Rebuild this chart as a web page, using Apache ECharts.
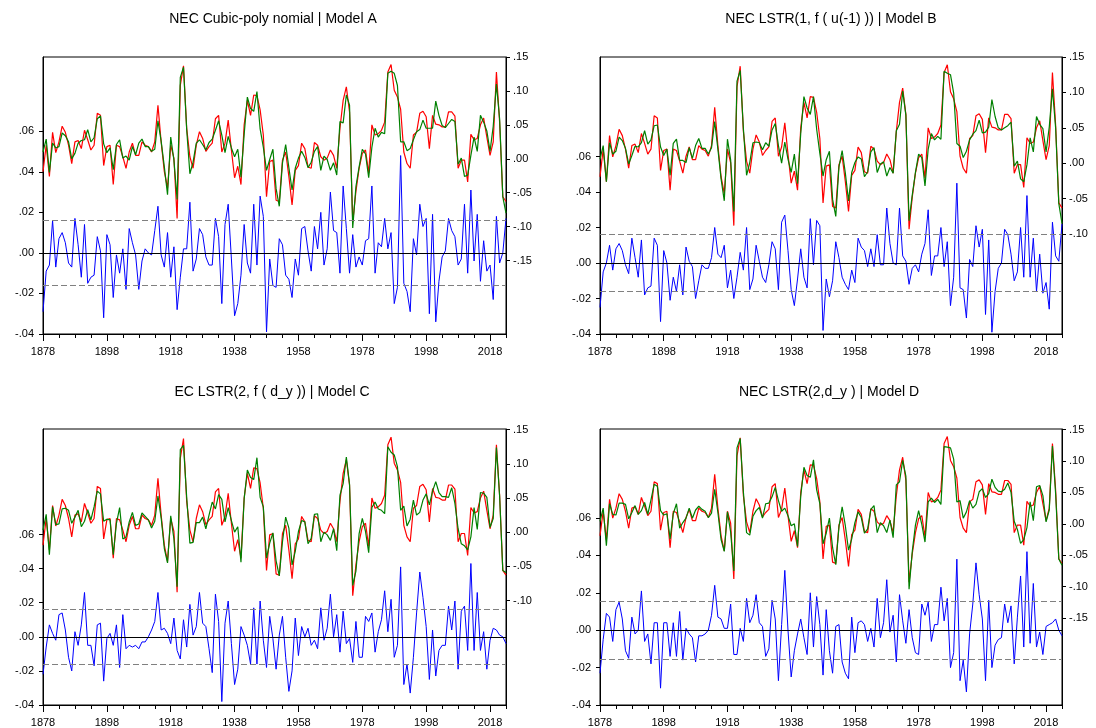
<!DOCTYPE html>
<html>
<head>
<meta charset="utf-8">
<script src="https://cdn.jsdelivr.net/npm/echarts@6/dist/echarts.min.js"></script>
<style>
html, body { margin: 0; padding: 0; background: #ffffff; }
#chart { width: 1096px; height: 728px; }
</style>
</head>
<body>
<div id="chart"></div>
<script>
// Annual sample
const firstYear = 1878;
const lastYear = 2023;

const panelTitles = [
  'NEC Cubic-poly nomial | Model A',
  'NEC LSTR(1, f ( u(-1) )) | Model B',
  'EC LSTR(2, f ( d_y )) | Model C',
  'NEC LSTR(2,d_y ) | Model D'
];

// Actual series (right axis, red) - identical in every model
const actual = [
  -0.019, 0.020, -0.026, 0.039, 0.009, 0.025, 0.048, 0.039, 0.020, -0.007,
  0.025, 0.027, 0.015, 0.042, 0.028, 0.013, 0.020, 0.067, 0.064, -0.010,
  0.018, 0.020, -0.038, 0.020, 0.018, 0.003, -0.014, 0.010, 0.023, 0.005,
  0.005, 0.025, 0.020, 0.018, 0.010, 0.025, 0.079, 0.025, -0.019, -0.043,
  0.020, 0.001, -0.088, 0.108, 0.137, 0.045, 0.003, -0.014, 0.020, 0.040,
  0.030, 0.011, 0.018, 0.023, 0.059, 0.064, 0.010, 0.023, 0.057, 0.013,
  -0.028, -0.011, -0.038, 0.050, 0.086, 0.064, 0.094, 0.093, 0.072, 0.035,
  -0.056, -0.004, -0.002, -0.061, -0.063, -0.002, 0.010, -0.026, -0.068, -0.017,
  -0.010, 0.023, 0.015, -0.012, -0.014, 0.024, 0.020, 0.003, -0.002, 0.001,
  0.013, 0.005, -0.014, 0.045, 0.086, 0.106, 0.069, -0.093, -0.048, -0.014,
  0.008, 0.013, -0.021, 0.050, 0.035, 0.037, 0.042, 0.054, 0.128, 0.139,
  0.101, 0.091, 0.073, 0.010, -0.007, -0.014, 0.035, 0.039, 0.067, 0.070,
  0.062, 0.015, 0.064, 0.051, 0.050, 0.047, 0.047, 0.069, 0.069, 0.063,
  -0.014, -0.002, -0.002, -0.034, 0.036, 0.028, 0.030, 0.050, 0.060, 0.032,
  0.005, 0.025, 0.128, 0.054, -0.056, -0.063
];

// Model A
const fittedA = [
  0.010, 0.029, -0.020, 0.023, 0.016, 0.018, 0.038, 0.034, 0.025, 0.000,
  0.008, 0.023, 0.027, 0.028, 0.043, 0.025, 0.031, 0.059, 0.063, 0.022,
  0.009, 0.016, -0.016, 0.021, 0.028, 0.001, 0.004, -0.002, 0.018, 0.006,
  0.023, 0.029, 0.018, 0.018, 0.011, 0.014, 0.056, 0.026, -0.012, -0.053,
  0.032, -0.002, -0.060, 0.120, 0.135, 0.043, -0.022, -0.005, 0.023, 0.028,
  0.021, 0.013, 0.024, 0.029, 0.042, 0.056, 0.035, 0.009, 0.033, 0.016,
  0.003, 0.014, -0.027, 0.036, 0.091, 0.074, 0.070, 0.099, 0.044, 0.017,
  -0.017, -0.001, 0.014, -0.044, -0.070, -0.006, 0.021, -0.013, -0.046, -0.014,
  0.001, 0.011, 0.002, -0.013, -0.005, 0.011, 0.018, -0.017, 0.004, -0.001,
  -0.017, -0.006, -0.024, 0.055, 0.053, 0.094, 0.079, -0.102, -0.041, -0.012,
  0.014, 0.007, -0.028, 0.017, 0.045, 0.032, 0.039, 0.037, 0.126, 0.129,
  0.126, 0.108, 0.025, 0.025, 0.012, 0.015, 0.028, 0.040, 0.043, 0.057,
  0.045, 0.045, 0.045, 0.085, 0.064, 0.049, 0.046, 0.052, 0.058, 0.055,
  -0.008, 0.001, -0.026, -0.024, 0.005, 0.032, 0.011, 0.064, 0.054, 0.041,
  0.011, 0.048, 0.110, 0.059, -0.056, -0.080
];
const residA = [
  -0.029, -0.009, -0.006, 0.016, -0.007, 0.007, 0.010, 0.005, -0.005, -0.007,
  0.017, 0.004, -0.012, 0.014, -0.015, -0.012, -0.011, 0.008, 0.001, -0.032,
  0.009, 0.004, -0.022, -0.001, -0.010, 0.002, -0.018, 0.012, 0.005, -0.001,
  -0.018, -0.004, 0.002, 0.000, -0.001, 0.011, 0.023, -0.001, -0.007, 0.010,
  -0.012, 0.003, -0.028, -0.012, 0.002, 0.002, 0.025, -0.009, -0.003, 0.012,
  0.009, -0.002, -0.006, -0.006, 0.017, 0.008, -0.025, 0.014, 0.024, -0.003,
  -0.031, -0.025, -0.011, 0.014, -0.005, -0.010, 0.024, -0.006, 0.028, 0.018,
  -0.039, -0.003, -0.016, -0.017, 0.007, 0.004, -0.011, -0.013, -0.022, -0.003,
  -0.011, 0.012, 0.013, 0.001, -0.009, 0.013, 0.002, 0.020, -0.006, 0.002,
  0.030, 0.011, 0.010, -0.010, 0.033, 0.012, -0.010, 0.009, -0.007, -0.002,
  -0.006, 0.006, 0.007, 0.033, -0.010, 0.005, 0.003, 0.017, 0.002, 0.010,
  -0.025, -0.017, 0.048, -0.015, -0.019, -0.029, 0.007, -0.001, 0.024, 0.013,
  0.017, -0.030, 0.019, -0.034, -0.014, -0.002, 0.001, 0.017, 0.011, 0.008,
  -0.006, -0.003, 0.024, -0.010, 0.031, -0.004, 0.019, -0.014, 0.006, -0.009,
  -0.006, -0.023, 0.018, -0.005, 0.000, 0.017
];

// Model B
const fittedB = [
  0.006, 0.025, -0.026, 0.029, 0.013, 0.017, 0.037, 0.032, 0.021, -0.001,
  0.011, 0.024, 0.023, 0.029, 0.046, 0.027, 0.033, 0.053, 0.054, 0.023,
  0.011, 0.020, -0.017, 0.028, 0.034, 0.004, 0.004, 0.001, 0.022, 0.007,
  0.025, 0.035, 0.021, 0.021, 0.013, 0.022, 0.059, 0.020, -0.022, -0.053,
  0.034, 0.005, -0.068, 0.116, 0.131, 0.049, -0.017, 0.001, 0.029, 0.030,
  0.029, 0.019, 0.029, 0.024, 0.047, 0.056, 0.025, 0.000, 0.030, 0.006,
  -0.013, 0.013, -0.029, 0.042, 0.094, 0.078, 0.069, 0.094, 0.048, 0.014,
  -0.018, 0.005, 0.017, -0.051, -0.075, -0.005, 0.018, -0.014, -0.053, -0.013,
  0.001, 0.009, 0.006, -0.019, -0.012, 0.016, 0.022, -0.013, -0.001, 0.002,
  -0.018, -0.006, -0.014, 0.046, 0.055, 0.102, 0.068, -0.081, -0.045, -0.013,
  0.013, 0.008, -0.032, 0.020, 0.042, 0.033, 0.038, 0.034, 0.130, 0.127,
  0.125, 0.099, 0.028, 0.024, 0.008, 0.017, 0.033, 0.041, 0.046, 0.061,
  0.043, 0.044, 0.051, 0.090, 0.066, 0.050, 0.047, 0.050, 0.053, 0.058,
  -0.004, 0.003, -0.022, -0.026, -0.002, 0.036, 0.016, 0.066, 0.055, 0.049,
  0.016, 0.051, 0.105, 0.050, -0.057, -0.085
];
const residB = [
  -0.025, -0.005, 0.000, 0.010, -0.004, 0.008, 0.011, 0.007, -0.001, -0.006,
  0.014, 0.003, -0.008, 0.013, -0.018, -0.014, -0.013, 0.014, 0.010, -0.033,
  0.007, 0.000, -0.021, -0.008, -0.016, -0.001, -0.018, 0.009, 0.001, -0.002,
  -0.020, -0.010, -0.001, -0.003, -0.003, 0.003, 0.020, 0.005, 0.003, 0.010,
  -0.014, -0.004, -0.020, -0.008, 0.006, -0.004, 0.020, -0.015, -0.009, 0.010,
  0.001, -0.008, -0.011, -0.001, 0.012, 0.008, -0.015, 0.023, 0.027, 0.007,
  -0.015, -0.024, -0.009, 0.008, -0.008, -0.014, 0.025, -0.001, 0.024, 0.021,
  -0.038, -0.009, -0.019, -0.010, 0.012, 0.003, -0.008, -0.012, -0.015, -0.004,
  -0.011, 0.014, 0.009, 0.007, -0.002, 0.008, -0.002, 0.016, -0.001, -0.001,
  0.031, 0.011, 0.000, -0.001, 0.031, 0.004, 0.001, -0.012, -0.003, -0.001,
  -0.005, 0.005, 0.011, 0.030, -0.007, 0.004, 0.004, 0.020, -0.002, 0.012,
  -0.024, -0.008, 0.045, -0.014, -0.015, -0.031, 0.002, -0.002, 0.021, 0.009,
  0.019, -0.029, 0.013, -0.039, -0.016, -0.003, 0.000, 0.019, 0.016, 0.005,
  -0.010, -0.005, 0.020, -0.008, 0.038, -0.008, 0.014, -0.016, 0.005, -0.017,
  -0.011, -0.026, 0.023, 0.004, 0.001, 0.022
];

// Model C
const fittedC = [
  0.003, 0.026, -0.033, 0.037, 0.011, 0.012, 0.034, 0.035, 0.032, 0.013,
  0.022, 0.032, 0.008, 0.016, 0.033, 0.018, 0.037, 0.060, 0.056, 0.016,
  0.019, 0.018, -0.033, 0.013, 0.036, -0.010, -0.007, 0.015, 0.029, 0.010,
  0.012, 0.028, 0.023, 0.018, 0.006, 0.016, 0.053, 0.021, -0.024, -0.045,
  0.024, -0.010, -0.080, 0.121, 0.127, 0.051, -0.016, -0.015, 0.014, 0.014,
  0.022, 0.005, 0.025, 0.044, 0.034, 0.055, 0.048, 0.015, 0.036, 0.017,
  0.000, 0.008, -0.044, 0.049, 0.091, 0.080, 0.077, 0.109, 0.051, 0.037,
  -0.038, -0.016, -0.001, -0.042, -0.064, -0.014, 0.022, 0.006, -0.048, -0.028,
  0.001, 0.017, 0.015, -0.017, -0.009, 0.026, 0.027, -0.014, 0.000, -0.004,
  -0.012, 0.005, -0.027, 0.054, 0.071, 0.110, 0.070, -0.078, -0.057, -0.002,
  0.020, 0.001, -0.030, 0.036, 0.044, 0.034, 0.032, 0.027, 0.125, 0.117,
  0.113, 0.096, 0.032, 0.038, 0.009, 0.019, 0.047, 0.025, 0.029, 0.047,
  0.056, 0.040, 0.060, 0.074, 0.058, 0.052, 0.052, 0.051, 0.065, 0.042,
  0.005, -0.017, -0.020, -0.026, -0.007, 0.036, 0.004, 0.058, 0.057, 0.051,
  0.007, 0.020, 0.124, 0.053, -0.056, -0.059
];
const residC = [
  -0.022, -0.006, 0.007, 0.002, -0.002, 0.013, 0.014, 0.004, -0.012, -0.020,
  0.003, -0.005, 0.007, 0.026, -0.005, -0.005, -0.017, 0.007, 0.008, -0.026,
  -0.001, 0.002, -0.005, 0.007, -0.018, 0.013, -0.007, -0.005, -0.006, -0.005,
  -0.007, -0.003, -0.003, 0.000, 0.004, 0.009, 0.026, 0.004, 0.005, 0.002,
  -0.004, 0.011, -0.008, -0.013, 0.010, -0.006, 0.019, 0.001, 0.006, 0.026,
  0.008, 0.006, -0.007, -0.021, 0.025, 0.009, -0.038, 0.008, 0.021, -0.004,
  -0.028, -0.019, 0.006, 0.001, -0.005, -0.016, 0.017, -0.016, 0.021, -0.002,
  -0.018, 0.012, -0.001, -0.019, 0.001, 0.012, -0.012, -0.032, -0.020, 0.011,
  -0.011, 0.006, 0.000, 0.005, -0.005, -0.002, -0.007, 0.017, -0.002, 0.005,
  0.025, 0.000, 0.013, -0.009, 0.015, -0.004, -0.001, -0.015, 0.009, -0.012,
  -0.012, 0.012, 0.009, 0.014, -0.009, 0.003, 0.010, 0.027, 0.003, 0.022,
  -0.012, -0.005, 0.041, -0.028, -0.016, -0.033, -0.012, 0.014, 0.038, 0.023,
  0.006, -0.025, 0.004, -0.023, -0.008, -0.005, -0.005, 0.018, 0.004, 0.021,
  -0.019, 0.015, 0.018, -0.008, 0.043, -0.008, 0.026, -0.008, 0.003, -0.019,
  -0.002, 0.005, 0.004, 0.001, 0.000, -0.004
];

// Model D
const fittedD = [
  0.004, 0.025, -0.035, 0.032, 0.015, 0.014, 0.033, 0.033, 0.031, 0.008,
  0.018, 0.029, 0.015, 0.021, 0.034, 0.015, 0.038, 0.063, 0.060, 0.021,
  0.014, 0.016, -0.024, 0.016, 0.032, -0.007, 0.002, 0.009, 0.025, 0.009,
  0.022, 0.028, 0.023, 0.020, 0.010, 0.017, 0.055, 0.018, -0.025, -0.044,
  0.019, -0.013, -0.075, 0.121, 0.136, 0.051, -0.014, -0.018, 0.012, 0.021,
  0.026, 0.009, 0.032, 0.033, 0.043, 0.058, 0.037, 0.020, 0.025, 0.013,
  -0.003, 0.000, -0.036, 0.044, 0.090, 0.077, 0.074, 0.102, 0.054, 0.032,
  -0.032, -0.015, 0.009, -0.038, -0.065, -0.005, 0.027, -0.003, -0.042, -0.024,
  0.002, 0.019, 0.010, -0.015, -0.008, 0.023, 0.029, -0.014, 0.002, -0.003,
  -0.014, 0.006, -0.022, 0.062, 0.067, 0.101, 0.076, -0.104, -0.044, -0.002,
  0.021, -0.001, -0.029, 0.035, 0.041, 0.034, 0.039, 0.031, 0.123, 0.122,
  0.121, 0.103, 0.035, 0.037, 0.009, 0.019, 0.037, 0.025, 0.031, 0.051,
  0.056, 0.042, 0.048, 0.071, 0.058, 0.052, 0.051, 0.055, 0.065, 0.050,
  0.004, -0.009, -0.031, -0.025, -0.006, 0.035, 0.005, 0.059, 0.061, 0.045,
  0.003, 0.022, 0.124, 0.048, -0.056, -0.066
];
const residD = [
  -0.023, -0.005, 0.009, 0.007, -0.006, 0.011, 0.015, 0.006, -0.011, -0.015,
  0.007, -0.002, 0.000, 0.021, -0.006, -0.002, -0.018, 0.004, 0.004, -0.031,
  0.004, 0.004, -0.014, 0.004, -0.014, 0.010, -0.016, 0.001, -0.002, -0.004,
  -0.017, -0.003, -0.003, -0.002, 0.000, 0.008, 0.024, 0.007, 0.006, 0.001,
  0.001, 0.014, -0.013, -0.013, 0.001, -0.006, 0.017, 0.004, 0.008, 0.019,
  0.004, 0.002, -0.014, -0.010, 0.016, 0.006, -0.027, 0.003, 0.032, 0.000,
  -0.025, -0.011, -0.002, 0.006, -0.004, -0.013, 0.020, -0.009, 0.018, 0.003,
  -0.024, 0.011, -0.011, -0.023, 0.002, 0.003, -0.017, -0.023, -0.026, 0.007,
  -0.012, 0.004, 0.005, 0.003, -0.006, 0.001, -0.009, 0.017, -0.004, 0.004,
  0.027, -0.001, 0.008, -0.017, 0.019, 0.005, -0.007, 0.011, -0.004, -0.012,
  -0.013, 0.014, 0.008, 0.015, -0.006, 0.003, 0.003, 0.023, 0.005, 0.017,
  -0.020, -0.012, 0.038, -0.027, -0.016, -0.033, -0.002, 0.014, 0.036, 0.019,
  0.006, -0.027, 0.016, -0.020, -0.008, -0.005, -0.004, 0.014, 0.004, 0.013,
  -0.018, 0.007, 0.029, -0.009, 0.042, -0.007, 0.025, -0.009, -0.001, -0.013,
  0.002, 0.003, 0.004, 0.006, 0.000, -0.003
];

// Standard error of each regression (dashed band around zero)
const standardErrors = [0.0162, 0.0161, 0.0159, 0.0154];

// Tick labels
const yearLabels = [1878, 1898, 1918, 1938, 1958, 1978, 1998, 2018];
const residTicks = [-0.04, -0.02, 0, 0.02, 0.04, 0.06];
const levelTicksA = [-0.15, -0.10, -0.05, 0, 0.05, 0.10, 0.15];
const levelTicksB = [-0.10, -0.05, 0, 0.05, 0.10, 0.15];
const levelTicksC = [-0.10, -0.05, 0, 0.05, 0.10, 0.15];
const levelTicksD = [-0.15, -0.10, -0.05, 0, 0.05, 0.10, 0.15];

// Panel layout
const panels = [
  { title: panelTitles[0], tx: 273, ty: 18,
    grid: { left: 43, top: 57, width: 463, height: 277 },
    residRange: [-0.04, 0.0966], levelRange: [-0.2582, 0.15], levelTicks: levelTicksA,
    fitted: fittedA, resid: residA, se: standardErrors[0] },
  { title: panelTitles[1], tx: 831, ty: 18,
    grid: { left: 600, top: 57, width: 462, height: 277 },
    residRange: [-0.04, 0.1161], levelRange: [-0.241, 0.15], levelTicks: levelTicksB,
    fitted: fittedB, resid: residB, se: standardErrors[1] },
  { title: panelTitles[2], tx: 272, ty: 391,
    grid: { left: 43, top: 429, width: 463, height: 277 },
    residRange: [-0.04, 0.1219], levelRange: [-0.253, 0.151], levelTicks: levelTicksC,
    fitted: fittedC, resid: residC, se: standardErrors[2] },
  { title: panelTitles[3], tx: 829, ty: 391,
    grid: { left: 600, top: 429, width: 462, height: 277 },
    residRange: [-0.04, 0.1076], levelRange: [-0.2885, 0.151], levelTicks: levelTicksD,
    fitted: fittedD, resid: residD, se: standardErrors[3] }
];

const years = [];
for (let y = firstYear; y <= lastYear; y++) years.push(y);
const toPoints = arr => years.map((y, i) => [y, arr[i]]);

// EViews style number format: .06, -.02, .00
const fmt = v => {
  const s = Math.abs(v).toFixed(2).replace(/^0/, '');
  return (v < -1e-9 ? '-' : '') + s;
};

const FONT = 'Liberation Sans, Arial, Helvetica, sans-serif';
const black = '#000000';
const labelStyle = { color: black, fontFamily: FONT, fontSize: 11 };

const option = {
  animation: false,
  backgroundColor: '#ffffff',
  grid: [], xAxis: [], yAxis: [], series: [], graphic: []
};

panels.forEach((p, i) => {
  option.grid.push(Object.assign({ show: true, borderColor: black, borderWidth: 1, backgroundColor: 'transparent' }, p.grid));

  // labelled year ticks
  option.xAxis.push({
    type: 'value', gridIndex: i, position: 'bottom',
    min: firstYear, max: lastYear, interval: 20,
    axisLine: { show: true, onZero: false, lineStyle: { color: black, width: 1 } },
    axisTick: { show: true, inside: false, length: 7, lineStyle: { color: black, width: 1 } },
    axisLabel: Object.assign({
      show: true, margin: 12, showMaxLabel: false,
      formatter: v => (yearLabels.indexOf(Math.round(v)) >= 0 ? String(Math.round(v)) : '')
    }, labelStyle),
    splitLine: { show: false }
  });
  // five-year ticks
  option.xAxis.push({
    type: 'value', gridIndex: i, position: 'bottom',
    min: firstYear, max: lastYear, interval: 5,
    axisLine: { show: false, onZero: false },
    axisTick: { show: true, inside: false, length: 4, lineStyle: { color: black, width: 1 } },
    axisLabel: { show: false },
    splitLine: { show: false }
  });

  // residual axis (left)
  option.yAxis.push({
    type: 'value', gridIndex: i, position: 'left',
    min: p.residRange[0], max: p.residRange[1],
    axisLine: { show: true, onZero: false, lineStyle: { color: black, width: 1 } },
    axisTick: { show: true, inside: false, length: 4, customValues: residTicks, lineStyle: { color: black } },
    axisLabel: Object.assign({ margin: 9, customValues: residTicks, formatter: fmt }, labelStyle),
    splitLine: { show: false }
  });
  // actual / fitted axis (right)
  option.yAxis.push({
    type: 'value', gridIndex: i, position: 'right',
    min: p.levelRange[0], max: p.levelRange[1],
    axisLine: { show: true, onZero: false, lineStyle: { color: black, width: 1 } },
    axisTick: { show: true, inside: false, length: 4, customValues: p.levelTicks, lineStyle: { color: black } },
    axisLabel: Object.assign({ margin: 7, customValues: p.levelTicks, formatter: fmt }, labelStyle),
    splitLine: { show: false }
  });

  const band = { type: [6, 3], color: '#808080', width: 1 };
  option.series.push({
    name: 'Residual', type: 'line', xAxisIndex: 2 * i, yAxisIndex: 2 * i,
    data: toPoints(p.resid), symbol: 'none', showSymbol: false,
    lineStyle: { color: '#0000ff', width: 1 }, itemStyle: { color: '#0000ff' },
    z: 2, silent: true,
    markLine: {
      silent: true, symbol: ['none', 'none'], label: { show: false }, animation: false,
      precision: 6,
      data: [
        { yAxis: p.se, lineStyle: band },
        { yAxis: -p.se, lineStyle: band },
        { yAxis: 0, lineStyle: { type: 'solid', color: black, width: 1 } }
      ]
    }
  });
  option.series.push({
    name: 'Actual', type: 'line', xAxisIndex: 2 * i, yAxisIndex: 2 * i + 1,
    data: toPoints(actual), symbol: 'none', showSymbol: false,
    lineStyle: { color: '#ff0000', width: 1.2 }, itemStyle: { color: '#ff0000' },
    z: 3, silent: true
  });
  option.series.push({
    name: 'Fitted', type: 'line', xAxisIndex: 2 * i, yAxisIndex: 2 * i + 1,
    data: toPoints(p.fitted), symbol: 'none', showSymbol: false,
    lineStyle: { color: '#008000', width: 1.2 }, itemStyle: { color: '#008000' },
    z: 4, silent: true
  });

  option.graphic.push({
    type: 'text', x: p.tx, y: p.ty + 1, silent: true,
    style: { text: p.title, fill: black, font: '14px ' + FONT, align: 'center', verticalAlign: 'middle' }
  });
});

const chart = echarts.init(document.getElementById('chart'), null, { renderer: 'canvas' });
chart.setOption(option);
</script>
</body>
</html>
